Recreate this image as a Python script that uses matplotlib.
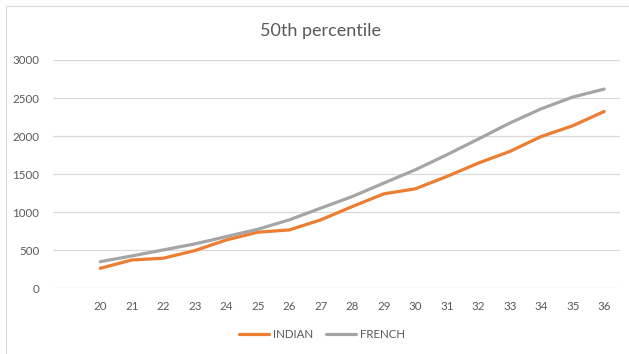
import matplotlib.pyplot as plt
from matplotlib.patches import Rectangle

ages = ["20", "21", "22", "23", "24", "25", "26", "27", "28",
        "29", "30", "31", "32", "33", "34", "35", "36"]
indian = [263, 372, 395, 495, 635, 737, 767, 899, 1074,
          1241, 1307, 1469, 1645, 1798, 1995, 2136, 2324]
french = [350, 425, 504, 583, 679, 776, 899, 1053, 1206,
          1382, 1557, 1754, 1961, 2171, 2359, 2513, 2618]
yticks = [0, 500, 1000, 1500, 2000, 2500, 3000]

plt.rcParams['font.family'] = ['Lato', 'DejaVu Sans']
txt = "#595959"

fig = plt.figure(figsize=(6.29, 3.54), dpi=100)
fig.patches.append(Rectangle((6 / 629, -0.01), 1.0, 1 - 6 / 354 + 0.01,
                             transform=fig.transFigure, fill=False,
                             edgecolor="#D9D9D9", linewidth=0.8))

ax = fig.add_axes([53 / 629, 1 - 288.3 / 354, 567 / 629, 228.3 / 354])

# first category slot is empty in the original chart
x = list(range(1, len(ages) + 1))
ax.plot(x, indian, color="#ED7D31", linewidth=2.3, label="INDIAN",
        solid_capstyle="round")
ax.plot(x, french, color="#A5A5A5", linewidth=2.3, label="FRENCH",
        solid_capstyle="round")

ax.set_xlim(-0.5, len(ages) + 0.5)
ax.set_ylim(0, 3000)
ax.set_xticks(x)
ax.set_xticklabels(ages)
ax.set_yticks(yticks)
ax.set_yticklabels([str(v) for v in yticks])
ax.grid(axis="y", color="#D9D9D9", linewidth=0.9)
ax.set_axisbelow(True)
for s in ax.spines.values():
    s.set_visible(False)
ax.tick_params(length=0, labelsize=8.3, colors=txt, pad=9)
ax.tick_params(axis="y", pad=10)

fig.text(320 / 629, 1 - 31 / 354, "50th percentile", ha="center", va="center",
         fontsize=13, color=txt)

fig.legend(loc="center", bbox_to_anchor=(322 / 629, 1 - 335 / 354), ncol=2,
           frameon=False, fontsize=8.3, labelcolor=txt, handlelength=2.6,
           handletextpad=0.3, columnspacing=1.2)

fig.savefig("out.png", dpi=100)
